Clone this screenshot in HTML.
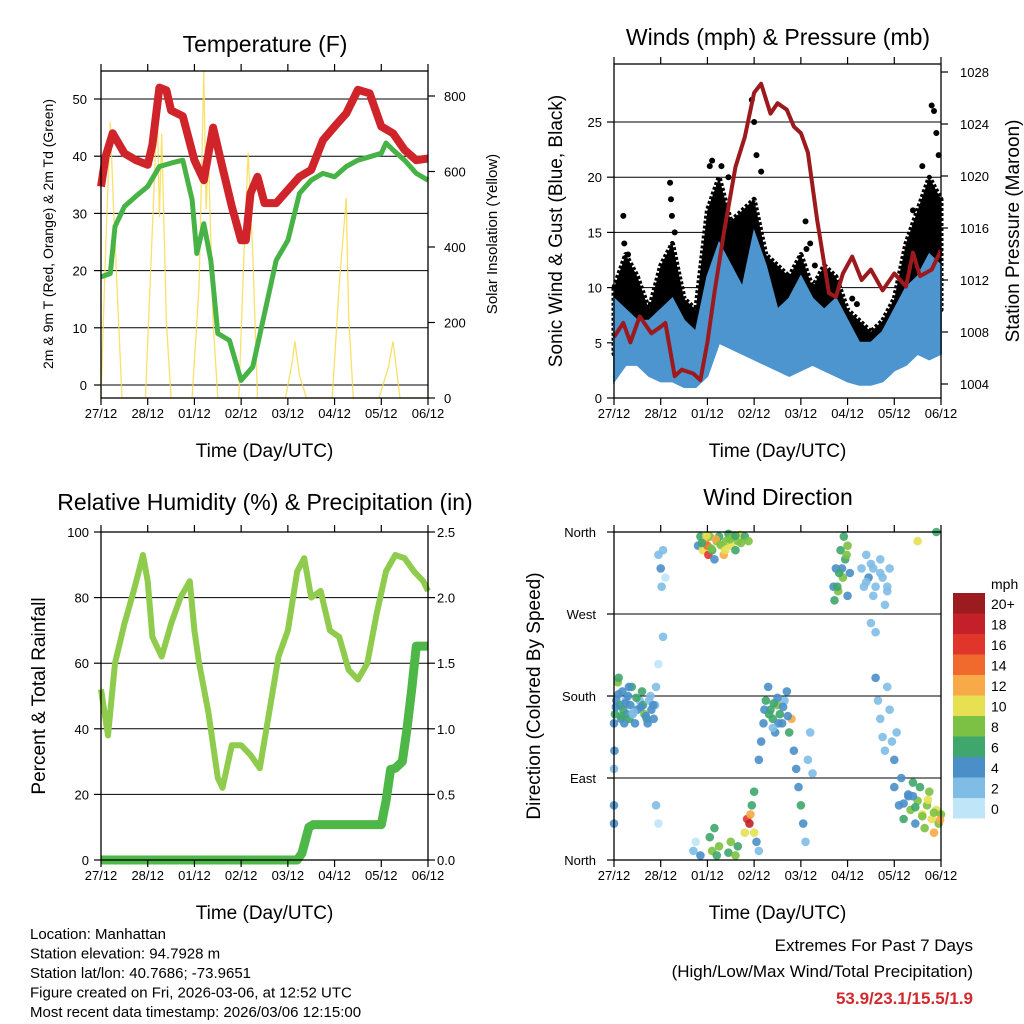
<!DOCTYPE html>
<html><head><meta charset="utf-8"><style>
body{margin:0;background:#fff;}
svg{display:block;font-family:"Liberation Sans",sans-serif;}
</style></head><body>
<svg id="c" width="1024" height="1024" viewBox="0 0 1024 1024"></svg>
<script>
// ---------- data ----------
const dayLabels=["27/12","28/12","01/12","02/12","03/12","04/12","05/12","06/12"];
const tempT=[0,0.1,0.25,0.5,0.75,1.0,1.1,1.25,1.4,1.5,1.75,2.0,2.2,2.4,2.6,2.8,3.0,3.1,3.2,3.35,3.5,3.75,4.0,4.25,4.5,4.75,5.0,5.25,5.5,5.75,6.0,6.25,6.5,6.75,7.0];
const tempRed=[34.7,40,44,40.5,39.3,38.5,42,52,51.5,48,47,39.3,35.8,45,38,31.2,25.3,25.3,33.5,36.4,31.8,31.8,34.1,36.4,37.6,42.8,45.2,47.5,51.6,51,45.2,44,41.1,39.3,39.6];
const dewT=[0,0.2,0.3,0.5,0.75,1.0,1.25,1.5,1.75,1.95,2.05,2.2,2.35,2.5,2.75,3.0,3.25,3.5,3.75,4.0,4.25,4.5,4.75,5.0,5.25,5.5,5.75,6.0,6.1,6.25,6.5,6.75,7.0];
const dewGreen=[18.9,19.5,27.7,31.2,33,34.7,38.2,38.8,39.3,32.4,23,28.2,21.8,9,7.8,0.8,3.2,12.5,21.8,25.3,33.5,35.8,37,36.4,38.2,39.3,39.9,40.5,42.3,41.1,39.3,37,35.8];
const solarT=[0,0.1,0.2,0.27,0.45,0.95,1.05,1.15,1.2,1.25,1.3,1.4,1.5,1.95,2.1,2.2,2.25,2.3,2.4,2.5,2.95,3.08,3.15,3.25,3.35,3.95,4.1,4.15,4.25,4.4,4.95,5.1,5.25,5.3,5.4,5.95,6.15,6.25,6.4,7.0];
const solarV=[0,400,730,500,0,0,300,600,790,480,700,200,0,0,300,866,500,650,200,0,0,450,650,380,0,0,100,150,60,0,0,300,530,220,0,0,80,150,0,0];
const windT=[0,0.25,0.5,0.75,1.0,1.25,1.5,1.75,2.0,2.25,2.5,2.75,3.0,3.25,3.5,3.75,4.0,4.25,4.5,4.75,5.0,5.25,5.5,5.75,6.0,6.25,6.5,6.75,7.0];
const windMax=[9,8,7,7,8,9,7,6,11,14,12,10,15,12,8,9,11,9,8,9,7,5,5,6,8,10,11,13,12];
const windMin=[1.5,3,3,2,1.5,1.5,1,1,2,5,4.5,4,3.5,3,2.5,2,2.5,3,2.5,2,1.5,1.2,1.2,1.5,2.5,3,4,3.5,4];
const gustMax=[10,13,11,8,12,14,9,8,17,20,16,17,18,13,12,11,13,10,12,11,8,7,6,7,9,14,17,20,18];
const gustMin=[4,5,5,4,4,5,4,3,6,8,7,6,6,6,5,5,6,5,4,4,3,2.5,2.5,3,5,6,7,8,8];
const gustDotT=[0.2,0.22,0.3,1.2,1.22,1.24,1.3,2.05,2.1,2.3,2.45,2.95,3.0,3.05,3.15,4.1,4.12,4.2,4.3,5.1,5.2,6.4,6.6,6.8,6.85,6.9,6.95];
const gustDotV=[16.5,14,13,19.5,18,16.5,15,21,21.5,21,20,27,25,22,20.5,16,13.5,14,12,9,8.5,17,21,26.5,26,24,22];
const presT=[0,0.2,0.35,0.55,0.8,1.0,1.1,1.3,1.45,1.7,1.85,2.0,2.15,2.35,2.6,2.8,3.0,3.15,3.35,3.5,3.7,3.85,4.0,4.15,4.35,4.6,4.75,4.9,5.1,5.3,5.5,5.75,6.0,6.25,6.4,6.55,6.8,7.0];
const presV=[1007.6,1008.7,1007.2,1009.2,1007.9,1008.4,1008.7,1004.6,1005.1,1004.8,1004.3,1007.2,1011,1015.6,1020.7,1023,1026.4,1027.1,1024.8,1025.6,1025.1,1023.8,1023.3,1021.8,1016.6,1011,1010.7,1012.5,1013.8,1012,1012.8,1011.2,1012.5,1011.5,1014.1,1012.3,1012.8,1014.3];
const rhT=[0,0.15,0.3,0.5,0.7,0.9,1.0,1.1,1.3,1.5,1.7,1.9,2.0,2.1,2.3,2.5,2.6,2.8,3.0,3.2,3.4,3.6,3.8,4.0,4.2,4.35,4.5,4.7,4.9,5.1,5.3,5.5,5.7,5.9,6.1,6.3,6.5,6.7,6.9,7.0];
const rhV=[52,38,60,72,82,93,85,68,62,72,80,85,70,60,45,25,22,35,35,32,28,45,62,70,88,92,80,82,70,68,58,55,60,75,88,93,92,88,85,82];
const rainT=[0,4.2,4.3,4.45,4.55,6.0,6.1,6.2,6.3,6.45,6.55,6.65,6.75,7.0];
const rainV=[0,0,0.05,0.25,0.27,0.27,0.45,0.69,0.7,0.75,1.0,1.3,1.63,1.63];
const dirT=[0,0.02,0.05,0.08,0.1,0.12,0.15,0.18,0.2,0.22,0.25,0.28,0.3,0.33,0.35,0.38,0.4,0.45,0.5,0.55,0.6,0.62,0.65,0.7,0.72,0.75,0.8,0.85,0.88,0.9,0,0,0,0.01,
0.95,1.0,1.05,1.02,1.1,0.95,1.05,0.9,0.95,
1.8,1.85,1.9,1.95,2.0,2.02,2.05,2.1,2.15,2.2,2.25,2.3,2.35,2.4,2.45,2.5,2.55,2.6,2.65,2.7,2.8,2.88,
1.7,1.75,1.85,2.05,2.1,2.15,2.2,2.25,2.45,2.5,2.6,2.65,2.8,2.85,2.9,2.92,2.95,3.0,3.0,3.05,3.1,
3.1,3.15,3.2,3.25,3.3,3.35,3.4,3.45,3.5,3.55,3.6,3.65,3.7,3.75,3.8,3.85,3.9,3.95,4.0,4.05,4.1,4.15,4.2,4.25,
4.7,4.72,4.75,4.8,4.85,4.9,4.92,4.95,5.0,5.0,5.05,
5.3,5.35,5.4,5.45,5.5,5.55,5.6,5.7,5.75,5.8,5.85,5.9,5.5,5.6,
5.6,5.65,5.7,5.75,5.8,5.85,5.9,5.95,6.0,6.05,
6.0,6.1,6.15,6.2,6.3,6.35,6.4,6.45,6.5,6.55,6.6,6.65,6.7,6.75,6.8,6.85,6.9,6.95,7.0,6.5,6.9,
0.04,0.1,0.16,0.24,0.32,0.42,0.48,0.58,0.68,0.78,0.84,
1.88,1.98,2.08,2.18,2.28,2.38,2.48,2.6,2.72,
3.22,3.32,3.42,3.52,3.62,3.72,3.4,3.5,
4.78,4.88,4.98,4.82,5.4,5.55,5.7,5.85,
6.2,6.3,6.45,6.6,6.72,6.85,6.98,6.4];
const dirDeg=[150,160,175,195,200,170,155,185,165,150,175,160,180,155,170,190,160,150,165,175,185,170,160,155,150,175,165,155,170,190,60,40,100,120,
335,320,340,300,310,215,245,60,40,
345,355,340,350,345,335,355,340,330,350,355,345,335,350,358,345,355,340,350,357,355,350,
10,20,5,25,10,35,5,15,8,20,5,15,30,45,40,50,60,75,30,20,10,
110,130,150,175,190,165,155,140,170,160,150,175,185,140,155,120,100,80,60,40,20,110,140,95,
300,285,320,295,340,310,355,330,290,345,315,
320,300,335,310,325,290,300,330,310,280,295,320,260,250,
200,175,155,135,120,190,165,130,110,140,
80,60,90,45,70,55,85,40,65,80,50,35,60,75,45,30,55,40,50,350,360,
168,182,158,172,190,162,178,168,158,180,170,
348,356,342,352,346,340,352,356,348,
165,160,172,150,168,158,145,178,
300,320,335,315,305,320,315,300,
62,72,58,48,66,52,44,70];
const dirSpd=[4,6,4,8,6,6,4,4,6,4,2,4,4,6,4,6,2,4,4,2,6,6,8,6,4,2,4,4,2,2,4,4,2,4,
2,4,2,2,0,0,2,2,0,
4,6,10,12,14,16,8,6,4,8,6,10,12,8,6,10,8,6,8,10,6,8,
2,0,4,6,8,6,6,8,6,8,8,6,10,16,18,12,6,6,10,4,2,
4,4,4,6,4,6,6,4,8,6,4,2,4,6,12,4,4,4,6,4,2,2,2,2,
4,6,4,8,6,8,6,6,4,8,4,
2,2,2,4,2,2,2,2,2,2,2,2,2,2,
4,2,2,2,2,2,2,2,4,2,
4,4,4,6,4,8,6,4,8,6,10,8,8,8,10,12,10,8,8,10,6,
4,4,6,4,4,2,6,4,4,2,4,
6,10,8,12,8,10,8,6,8,
4,6,6,4,4,4,2,4,
6,4,8,6,2,2,2,2,
4,4,6,8,10,8,12,4];
const speedLabels=["20+","18","16","14","12","10","8","6","4","2","0"];
const speedColors=["#9b1b1e","#c4202a","#e0352b","#ef6a2c","#f8aa48","#e6e052","#7cc143","#3fa66c","#4a8fc8","#7fbde6","#bfe5f8"];

// ---------- helpers ----------
const NS="http://www.w3.org/2000/svg";
const svg=document.getElementById('c');
function mk(tag,attrs,parent){const e=document.createElementNS(NS,tag);for(const k in attrs)e.setAttribute(k,attrs[k]);(parent||svg).appendChild(e);return e;}
function txt(s,x,y,size,anchor,parent,extra){const e=mk('text',Object.assign({x:x,y:y,'font-size':size,'text-anchor':anchor||'start',fill:'#000'},extra||{}),parent);e.textContent=s;return e;}
function poly(ts,vs,xf,yf){return ts.map((t,i)=>xf(t).toFixed(1)+','+yf(vs[i]).toFixed(1)).join(' ');}
function band(ts,lo,hi,xf,yf){let a=ts.map((t,i)=>xf(t).toFixed(1)+','+yf(hi[i]).toFixed(1));let b=ts.map((t,i)=>xf(t).toFixed(1)+','+yf(lo[i]).toFixed(1)).reverse();return a.concat(b).join(' ');}
function xAxis(g,x0,x1,y0,y1){const xs=t=>x0+t*(x1-x0)/7;
 dayLabels.forEach((d,i)=>{const x=xs(i);
  mk('line',{x1:x,x2:x,y1:y1,y2:y1+7,stroke:'#000','stroke-width':1.2},g);
  mk('line',{x1:x,x2:x,y1:y0,y2:y0-7,stroke:'#000','stroke-width':1.2},g);
  const l=txt(d,x,y1+20,13,'middle',g);
  
  });
 const t=txt('Time (Day/UTC)',(x0+x1)/2,y1+59,19,'middle',g);
 
 
 return xs;}
function frame(g,x0,x1,y0,y1){mk('rect',{x:x0,y:y0,width:x1-x0,height:y1-y0,fill:'none',stroke:'#000','stroke-width':1.3},g);}

// ---------- Panel 1: temperature ----------
(function(){
 const g=mk('g',{});
 
 
 const x0=101,x1=428,y0=71,y1=398;
 const yL=v=>385-v*5.72, yR=v=>398-v*0.3775;
 const xs=t=>x0+t*(x1-x0)/7;
 [0,10,20,30,40,50].forEach(v=>{mk('line',{x1:x0,x2:x1,y1:yL(v),y2:yL(v),stroke:'#000','stroke-width':1},g);
  mk('line',{x1:x0-7,x2:x0,y1:yL(v),y2:yL(v),stroke:'#000','stroke-width':1.2},g);
  const l=txt(String(v),x0-14,yL(v)+5,13,'end',g);});
 [0,200,400,600,800].forEach(v=>{mk('line',{x1:x1,x2:x1+7,y1:yR(v),y2:yR(v),stroke:'#000','stroke-width':1.2},g);
  const l=txt(String(v),x1+16,yR(v)+5,13,'start',g);});
 const sol=mk('polyline',{points:poly(solarT,solarV,xs,yR),fill:'none',stroke:'#f7dc4f','stroke-width':1.3,'stroke-opacity':0.85},g);
 
 const dw=mk('polyline',{points:poly(dewT,dewGreen,xs,yL),fill:'none',stroke:'#47b245','stroke-width':5,'stroke-linejoin':'round'},g);
 
 const rd=mk('polyline',{points:poly(tempT,tempRed,xs,yL),fill:'none',stroke:'#d0242b','stroke-width':8,'stroke-linejoin':'round'},g);
 
 frame(g,x0,x1,y0,y1);xAxis(g,x0,x1,y0,y1);
 const t=txt('Temperature (F)',265,52,23,'middle',g);
 const a=txt('2m & 9m T (Red, Orange) & 2m Td (Green)',0,0,14,'middle',g,{transform:'translate(53,234) rotate(-90)'});
 const b=txt('Solar Insolation (Yellow)',0,0,15,'middle',g,{transform:'translate(497,234) rotate(-90)'});
})();

// ---------- Panel 2: winds ----------
(function(){
 const g=mk('g',{});
 
 
 const x0=614,x1=941,y0=64,y1=398;
 const yL=v=>398-v*11.04, yR=p=>384-(p-1004)*13;
 const xs=t=>x0+t*(x1-x0)/7;
 [0,5,10,15,20,25].forEach(v=>{if(v>0)mk('line',{x1:x0,x2:x1,y1:yL(v),y2:yL(v),stroke:'#000','stroke-width':1},g);
  mk('line',{x1:x0-7,x2:x0,y1:yL(v),y2:yL(v),stroke:'#000','stroke-width':1.2},g);
  const l=txt(String(v),x0-12,yL(v)+5,13,'end',g);});
 [1004,1008,1012,1016,1020,1024,1028].forEach(v=>{mk('line',{x1:x1,x2:x1+7,y1:yR(v),y2:yR(v),stroke:'#000','stroke-width':1.2},g);
  const l=txt(String(v),x1+19,yR(v)+5,13,'start',g);});
 const gb=mk('polygon',{points:band(windT,gustMin,gustMax,xs,yL),fill:'#000','stroke':'#000','stroke-width':5,'stroke-linejoin':'round','stroke-dasharray':'3 2'},g);
 
 gustDotT.forEach((t,i)=>{const c=mk('circle',{cx:xs(t),cy:yL(gustDotV[i]),r:3,fill:'#000'},g);
  
  });
 const wb=mk('polygon',{points:band(windT,windMin,windMax,xs,yL),fill:'#4d95cf','stroke':'#4d95cf','stroke-width':2},g);
 
 const pl=mk('polyline',{points:poly(presT,presV,xs,yR),fill:'none',stroke:'#9c1a1e','stroke-width':4,'stroke-linejoin':'round'},g);
 
 frame(g,x0,x1,y0,y1);
 xAxis(g,x0,x1,y0,y1);
 const t=txt('Winds (mph) & Pressure (mb)',778,45,23,'middle',g);
 const a=txt('Sonic Wind & Gust (Blue, Black)',0,0,19,'middle',g,{transform:'translate(562,231) rotate(-90)'});
 const b=txt('Station Pressure (Maroon)',0,0,19,'middle',g,{transform:'translate(1019,231) rotate(-90)'});
})();

// ---------- Panel 3: RH & precip ----------
(function(){
 const g=mk('g',{});
 
 
 const x0=101,x1=428,y0=532,y1=860;
 const yL=v=>860-v*3.28, yR=v=>860-v*131.2;
 const xs=t=>x0+t*(x1-x0)/7;
 [0,20,40,60,80,100].forEach(v=>{mk('line',{x1:x0,x2:x1,y1:yL(v),y2:yL(v),stroke:'#000','stroke-width':1},g);
  mk('line',{x1:x0-7,x2:x0,y1:yL(v),y2:yL(v),stroke:'#000','stroke-width':1.2},g);
  const l=txt(String(v),x0-12,yL(v)+5,13,'end',g);});
 ["0.0","0.5","1.0","1.5","2.0","2.5"].forEach(s=>{const v=parseFloat(s);mk('line',{x1:x1,x2:x1+7,y1:yR(v),y2:yR(v),stroke:'#000','stroke-width':1.2},g);
  const l=txt(s,x1+9,yR(v)+5,13,'start',g);});
 const rh=mk('polyline',{points:poly(rhT,rhV,xs,yL),fill:'none',stroke:'#8fcb4c','stroke-width':6,'stroke-linejoin':'round'},g);
 
 const rn=mk('polyline',{points:poly(rainT,rainV,xs,yR),fill:'none',stroke:'#4db748','stroke-width':9,'stroke-linejoin':'round'},g);
 
 frame(g,x0,x1,y0,y1);xAxis(g,x0,x1,y0,y1);
 const t=txt('Relative Humidity (%) & Precipitation (in)',265,510,23,'middle',g);
 const a=txt('Percent & Total Rainfall',0,0,19,'middle',g,{transform:'translate(45,696) rotate(-90)'});
})();

// ---------- Panel 4: wind direction ----------
(function(){
 const g=mk('g',{});
 
 
 const x0=614,x1=941,y0=532,y1=860;
 const yD=d=>860-d*328/360;
 const xs=t=>x0+t*(x1-x0)/7;
 const names=["North","East","South","West","North"];
 [0,90,180,270,360].forEach((d,i)=>{if(d>0&&d<360)mk('line',{x1:x0,x2:x1,y1:yD(d),y2:yD(d),stroke:'#000','stroke-width':1},g);
  mk('line',{x1:x0-7,x2:x0,y1:yD(d),y2:yD(d),stroke:'#000','stroke-width':1.2},g);
  const l=txt(names[i],x0-18,yD(d)+5,13,'end',g);});
 function col(s){let idx=Math.round(s/2);if(idx>10)idx=10;return speedColors[10-idx];}
 dirT.forEach((t,i)=>{const c=mk('circle',{cx:xs(t),cy:yD(dirDeg[i]),r:4.3,fill:col(dirSpd[i]),'fill-opacity':0.9},g);
  
  });
 frame(g,x0,x1,y0,y1);xAxis(g,x0,x1,y0,y1);
 const t=txt('Wind Direction',778,505,23,'middle',g);
 const a=txt('Direction (Colored By Speed)',0,0,19,'middle',g,{transform:'translate(540,696) rotate(-90)'});
 const lg=mk('g',{});
 
 
 const u=txt('mph',991,589,14,'start',lg);
 speedLabels.forEach((s,i)=>{const y=593+i*20.5;
  const r=mk('rect',{x:953,y:y,width:32,height:20.5,fill:speedColors[i]},lg);
  
  
  const l=txt(s,991,y+16,14,'start',lg);
  
  });
})();

// ---------- footer text ----------
(function(){
 const info=["Location: Manhattan","Station elevation: 94.7928 m","Station lat/lon: 40.7686; -73.9651","Figure created on Fri, 2026-03-06, at 12:52 UTC","Most recent data timestamp: 2026/03/06 12:15:00"];
 const g=mk('g',{});
 
 
 info.forEach((s,i)=>{const l=txt(s,30,939+i*19.5,15,'start',g);});
 const e=mk('g',{});
 
 
 const a=txt('Extremes For Past 7 Days',973,951,17,'end',e);
 const b=txt('(High/Low/Max Wind/Total Precipitation)',973,977,17,'end',e);
 const c=txt('53.9/23.1/15.5/1.9',973,1004,17,'end',e,{fill:'#d02a2e','font-weight':'bold'});
})();
</script>
</body></html>
